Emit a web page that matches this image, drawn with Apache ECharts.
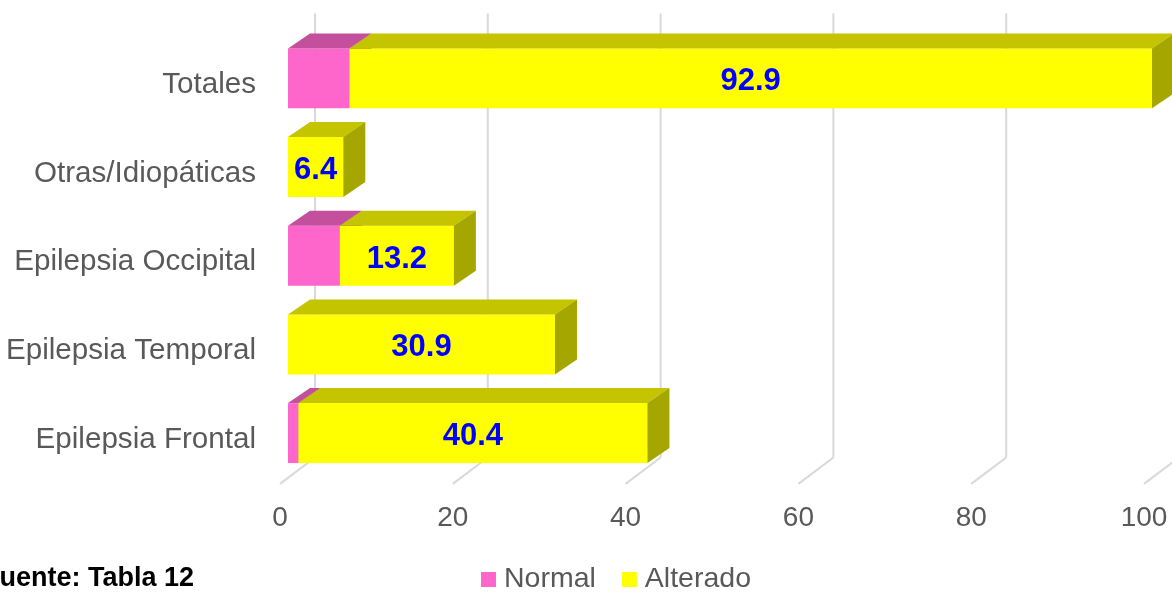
<!DOCTYPE html>
<html>
<head>
<meta charset="utf-8">
<script src="https://cdn.jsdelivr.net/npm/echarts@6/dist/echarts.min.js"></script>
<style>
  html, body { margin: 0; padding: 0; background: #ffffff; }
  #chart { width: 1172px; height: 592px; }
</style>
</head>
<body>
<div id="chart"></div>
<script>
// Categories, bottom to top
const categories = ['Epilepsia Frontal', 'Epilepsia Temporal', 'Epilepsia Occipital', 'Otras/Idiopáticas', 'Totales'];
// Percentages per category
const normalValues = [1.2, 0, 6.0, 0, 7.1];
const alteradoValues = [40.4, 30.9, 13.2, 6.4, 92.9];
// Value-axis ticks (also used for the 3D wall/floor lines)
const xTicks = [0, 20, 40, 60, 80, 100];

const FONT = "'Liberation Sans', Arial, Helvetica, sans-serif";
const TEXT_GREY = '#595959';

// 3D box depth of each bar (px)
const DEPTH_X = 22, DEPTH_Y = 15;
// Frame: back wall and floor relative to the bars' front plane
const WALL_X = 27, FLOOR_FRONT_X = -8, FRAME_DEPTH_Y = 26.4, WALL_TOP_EXTRA = 27;

function shade(hex, f) {
  const n = parseInt(hex.slice(1), 16);
  const r = Math.round(((n >> 16) & 255) * f);
  const g = Math.round(((n >> 8) & 255) * f);
  const b = Math.round((n & 255) * f);
  return 'rgb(' + r + ',' + g + ',' + b + ')';
}

// Frame lines: vertical on the back wall + diagonal across the floor
function frameRender(params, api) {
  const v = api.value(0);
  const p = api.coord([v, 0]);
  const cs = params.coordSys;
  const bottom = cs.y + cs.height;
  const xb = p[0] + WALL_X;
  const yb = bottom - FRAME_DEPTH_Y;
  const lineStyle = { stroke: '#d9d9d9', lineWidth: 2, fill: null };
  return {
    type: 'group',
    children: [
      { type: 'line', shape: { x1: xb, y1: cs.y - WALL_TOP_EXTRA, x2: xb, y2: yb }, style: lineStyle },
      { type: 'line', shape: { x1: xb, y1: yb, x2: p[0] + FLOOR_FRONT_X, y2: bottom }, style: lineStyle }
    ]
  };
}

// A 3D stacked bar segment: front, top and side faces
function makeBarRender(color, showLabel) {
  return function (params, api) {
    const v = api.value(0);
    if (!v) return null;
    const i = api.value(1);
    const base = api.value(2);
    const p0 = api.coord([base, i]);
    const p1 = api.coord([base + v, i]);
    const band = api.size([0, 1])[1];
    const h = band * 0.676;
    const cy = p0[1] - band * 0.073;
    const top = cy - h / 2, bot = cy + h / 2;
    const x0 = p0[0], x1 = p1[0];
    const children = [
      { type: 'polygon', shape: { points: [[x0, top], [x1, top], [x1, bot], [x0, bot]] },
        style: { fill: color } },
      { type: 'polygon', shape: { points: [[x0, top], [x0 + DEPTH_X, top - DEPTH_Y], [x1 + DEPTH_X, top - DEPTH_Y], [x1, top]] },
        style: { fill: shade(color, 0.77) } },
      { type: 'polygon', shape: { points: [[x1, top], [x1 + DEPTH_X, top - DEPTH_Y], [x1 + DEPTH_X, bot - DEPTH_Y], [x1, bot]] },
        style: { fill: shade(color, 0.65) } }
    ];
    if (showLabel) {
      children.push({
        type: 'text',
        style: {
          text: String(v), x: (x0 + x1) / 2, y: cy + 3.5,
          align: 'center', verticalAlign: 'middle',
          fontSize: 31, fontWeight: 'bold', fontFamily: FONT, fill: '#0000ff'
        }
      });
    }
    return { type: 'group', children: children };
  };
}

const normalData = categories.map((c, i) => [normalValues[i], i, 0]);
const alteradoData = categories.map((c, i) => [alteradoValues[i], i, normalValues[i]]);

const chart = echarts.init(document.getElementById('chart'), null, { renderer: 'canvas' });
chart.setOption({
  animation: false,
  backgroundColor: '#ffffff',
  grid: { left: 288, right: 20, top: 40.5, bottom: 108.1, containLabel: false },
  xAxis: {
    type: 'value', min: 0, max: 100, interval: 20,
    axisLine: { show: false }, axisTick: { show: false }, splitLine: { show: false },
    axisLabel: { fontSize: 28, color: TEXT_GREY, fontFamily: FONT, margin: 20, padding: [0, 16, 0, 0] }
  },
  yAxis: {
    type: 'category', data: categories,
    axisLine: { show: false }, axisTick: { show: false }, splitLine: { show: false },
    axisLabel: { fontSize: 29.6, color: TEXT_GREY, fontFamily: FONT, margin: 32, padding: [8, 0, 0, 0] }
  },
  legend: {
    data: ['Normal', 'Alterado'],
    left: 481, top: 565, padding: 0,
    icon: 'rect', itemWidth: 15, itemHeight: 15, itemGap: 26,
    selectedMode: false,
    textStyle: { fontSize: 28.5, color: TEXT_GREY, fontFamily: FONT, padding: [0, 0, 0, 3] }
  },
  graphic: [{
    type: 'text', x: -17, y: 579,
    style: { text: 'Fuente: Tabla 12', fontSize: 27, fontWeight: 'bold', fontFamily: FONT, fill: '#000000', verticalAlign: 'middle' }
  }],
  series: [
    {
      type: 'custom', name: 'frame', renderItem: frameRender,
      data: xTicks.map(v => [v, 0]), encode: { x: 0, y: 1 }, silent: true, z: 1
    },
    {
      type: 'custom', name: 'Normal', renderItem: makeBarRender('#ff66cc', false),
      itemStyle: { color: '#ff66cc' },
      data: normalData, encode: { x: 0, y: 1 }, z: 2
    },
    {
      type: 'custom', name: 'Alterado', renderItem: makeBarRender('#ffff00', true),
      itemStyle: { color: '#ffff00' },
      data: alteradoData, encode: { x: 0, y: 1 }, z: 3
    }
  ]
});
</script>
</body>
</html>
